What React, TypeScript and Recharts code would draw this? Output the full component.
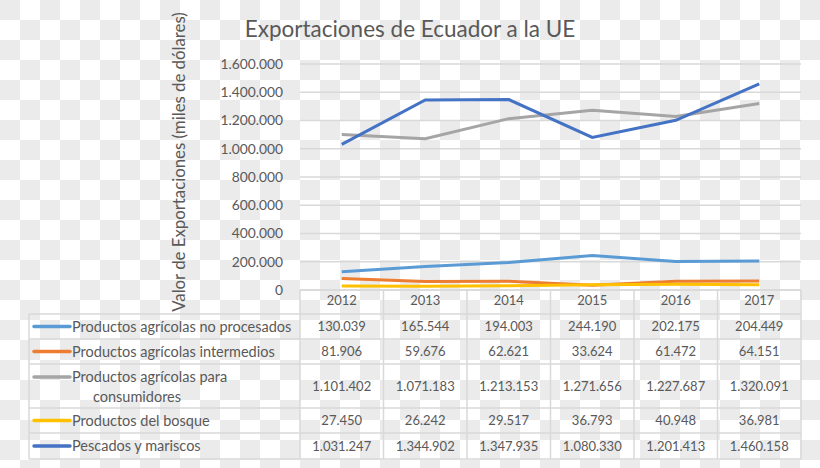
import React from 'react';
import { LineChart, Line, XAxis, YAxis, CartesianGrid } from 'recharts';

const years = ['2012', '2013', '2014', '2015', '2016', '2017'];
const noProcesados = [130039, 165544, 194003, 244190, 202175, 204449];
const intermedios = [81906, 59676, 62621, 33624, 61472, 64151];
const paraConsumidores = [1101402, 1071183, 1213153, 1271656, 1227687, 1320091];
const bosque = [27450, 26242, 29517, 36793, 40948, 36981];
const pescados = [1031247, 1344902, 1347935, 1080330, 1201413, 1460158];
const yTicks = [0, 200000, 400000, 600000, 800000, 1000000, 1200000, 1400000, 1600000];

const seriesNames = [
  'Productos agrícolas no procesados',
  'Productos agrícolas intermedios',
  'Productos agrícolas para consumidores',
  'Productos del bosque',
  'Pescados y mariscos',
];
const seriesValues = [noProcesados, intermedios, paraConsumidores, bosque, pescados];
const seriesColors = ['#5B9BD5', '#ED7D31', '#A5A5A5', '#FFC000', '#4472C4'];
const seriesKeys = ['s0', 's1', 's2', 's3', 's4'];

const data = years.map((y, i) => {
  const row: Record<string, any> = { year: y };
  seriesKeys.forEach((k, j) => {
    row[k] = seriesValues[j][i];
  });
  return row;
});

const fmt = (v: number) => String(Math.round(v)).replace(/\B(?=(\d{3})+(?!\d))/g, '.');

const FONT = 'Lato, "Open Sans", sans-serif';
const TXT = '#595959';
const GRID = '#d9d9d9';

// layout
const W = 820;
const H = 468;
const PLOT_L = 300;
const PLOT_R = 801;
const PLOT_T = 64;
const PLOT_B = 290;
const COL_W = (PLOT_R - PLOT_L) / years.length;
const TABLE_L = 29;
const rowBounds = [314, 339, 364, 408, 433, 459];

const Overlay = () => {
  const els: React.ReactNode[] = [];
  els.push(<line key="ht" x1={PLOT_L} x2={PLOT_R} y1={PLOT_B} y2={PLOT_B} stroke={GRID} strokeWidth={1.5} />);
  rowBounds.forEach((y, i) => {
    els.push(<line key={'h' + i} x1={TABLE_L} x2={PLOT_R} y1={y} y2={y} stroke={GRID} strokeWidth={1.5} />);
  });
  els.push(<line key="vl" x1={TABLE_L} x2={TABLE_L} y1={rowBounds[0]} y2={rowBounds[5]} stroke={GRID} strokeWidth={1.5} />);
  for (let c = 0; c <= years.length; c++) {
    const x = PLOT_L + c * COL_W;
    els.push(<line key={'v' + c} x1={x} x2={x} y1={PLOT_B} y2={rowBounds[5]} stroke={GRID} strokeWidth={1.5} />);
  }
  seriesNames.forEach((name, r) => {
    const top = rowBounds[r];
    const bot = rowBounds[r + 1];
    const cy = (top + bot) / 2;
    const twoLine = r === 2;
    const keyY = twoLine ? top + 13 : cy;
    els.push(
      <line key={'k' + r} x1={34} x2={70} y1={keyY} y2={keyY} stroke={seriesColors[r]} strokeWidth={3.5} strokeLinecap="round" />
    );
    if (twoLine) {
      els.push(
        <text key={'t' + r} x={72} y={keyY} dy="0.35em" fontSize={14.5} fill={TXT} fontFamily={FONT}>
          Productos agrícolas para
        </text>
      );
      els.push(
        <text key={'t2' + r} x={137} y={keyY + 20} dy="0.35em" fontSize={14.5} fill={TXT} fontFamily={FONT} textAnchor="middle">
          consumidores
        </text>
      );
    } else {
      els.push(
        <text key={'t' + r} x={72} y={cy} dy="0.35em" fontSize={14.5} fill={TXT} fontFamily={FONT}>
          {name}
        </text>
      );
    }
    seriesValues[r].forEach((v, c) => {
      els.push(
        <text key={'n' + r + '-' + c} x={PLOT_L + (c + 0.5) * COL_W} y={cy} dy="0.35em" fontSize={13} fill={TXT} fontFamily={FONT} textAnchor="middle">
          {fmt(v)}
        </text>
      );
    });
  });
  return (
    <svg width={W} height={H} style={{ position: 'absolute', left: 0, top: 0, pointerEvents: 'none' }}>
      <text x={410} y={37} fontSize={22.5} fill={TXT} fontFamily={FONT} textAnchor="middle">
        Exportaciones de Ecuador a la UE
      </text>
      <text
        x={178}
        y={162}
        fontSize={16.8}
        fill={TXT}
        fontFamily={FONT}
        textAnchor="middle"
        dominantBaseline="central"
        transform="rotate(-90 178 162)"
      >
        Valor de Exportaciones (miles de dólares)
      </text>
      {els}
    </svg>
  );
};

export default function App() {
  return (
    <div
      style={{
        position: 'absolute',
        left: 0,
        top: 0,
        width: W,
        height: H,
        background: 'repeating-conic-gradient(#ffffff 0% 25%, #ebebeb 0% 50%) 0 0 / 40px 40px',
        fontFamily: FONT,
      }}
    >
      <LineChart
        width={W}
        height={H}
        data={data}
        margin={{ top: PLOT_T, right: W - PLOT_R, bottom: H - PLOT_B - 30, left: 0 }}
      >
        <CartesianGrid horizontal vertical={false} stroke={GRID} strokeWidth={1.5} />
        <XAxis
          dataKey="year"
          height={30}
          padding={{ left: COL_W / 2, right: COL_W / 2 }}
          axisLine={false}
          tickLine={false}
          tickSize={0}
          tickMargin={6}
          tick={{ fill: TXT, fontSize: 13, fontFamily: FONT }}
          interval={0}
        />
        <YAxis
          width={PLOT_L}
          domain={[0, 1600000]}
          ticks={yTicks}
          tickFormatter={fmt}
          axisLine={false}
          tickLine={false}
          tickSize={0}
          tickMargin={17}
          tick={{ fill: TXT, fontSize: 13.8, fontFamily: FONT }}
          interval={0}
        />
        {seriesKeys.map((k, i) => (
          <Line
            key={k}
            dataKey={k}
            name={seriesNames[i]}
            stroke={seriesColors[i]}
            strokeWidth={3}
            dot={false}
            activeDot={false}
            isAnimationActive={false}
            type="linear"
          />
        ))}
      </LineChart>
      <Overlay />
    </div>
  );
}
